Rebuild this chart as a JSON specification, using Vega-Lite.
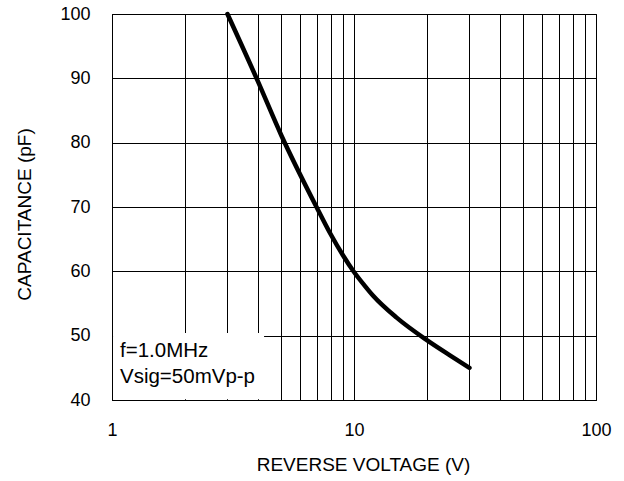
{
  "$schema": "https://vega.github.io/schema/vega-lite/v6.json",
  "autosize": {"type": "none"},
  "padding": {"left": 112, "top": 14, "right": 28, "bottom": 81},
  "width": 484,
  "height": 386,
  "background": "white",
  "config": {
    "font": "Liberation Sans",
    "view": {"stroke": "black", "strokeWidth": 1},
    "axis": {
      "domainColor": "black",
      "gridColor": "black",
      "gridOpacity": 1,
      "gridWidth": 1,
      "ticks": false,
      "labelColor": "black",
      "titleColor": "black",
      "labelFont": "Liberation Sans",
      "titleFont": "Liberation Sans",
      "labelFontSize": 18,
      "titleFontSize": 19,
      "titleFontWeight": "normal"
    }
  },
  "datasets": {
    "curve": [
      {"v": 3, "c": 100},
      {"v": 4, "c": 89.6},
      {"v": 5, "c": 81.2},
      {"v": 7, "c": 70},
      {"v": 8, "c": 65.8},
      {"v": 9, "c": 62.5},
      {"v": 10, "c": 59.9},
      {"v": 11, "c": 57.9},
      {"v": 12, "c": 56.2},
      {"v": 15, "c": 52.8},
      {"v": 20, "c": 49.3},
      {"v": 25, "c": 46.9},
      {"v": 30, "c": 45}
    ],
    "box": [{"x1": 1.01, "x2": 4.25, "y1": 40.1, "y2": 50.4}],
    "notes": [
      {"x": 1.079, "y": 46.65, "t": "f=1.0MHz"},
      {"x": 1.079, "y": 42.64, "t": "Vsig=50mVp-p"}
    ]
  },
  "layer": [
    {
      "data": {"name": "box"},
      "mark": {"type": "rect", "fill": "white", "stroke": null},
      "encoding": {
        "x": {
          "field": "x1", "type": "quantitative",
          "scale": {"type": "log", "domain": [1, 100]},
          "axis": {
            "values": [1,2,3,4,5,6,7,8,9,10,20,30,40,50,60,70,80,90,100],
            "labelExpr": "datum.value == 1 || datum.value == 10 || datum.value == 100 ? datum.label : ''",
            "labelPadding": 21,
            "title": "REVERSE VOLTAGE (V)",
            "titlePadding": 16,
            "titleX": 251,
            "labelFlush": false,
            "labelOverlap": false
          }
        },
        "x2": {"field": "x2"},
        "y": {
          "field": "y1", "type": "quantitative",
          "scale": {"domain": [40, 100]},
          "axis": {
            "values": [40,50,60,70,80,90,100],
            "labelPadding": 22,
            "title": "CAPACITANCE (pF)",
            "titlePadding": 25,
            "titleY": 200,
            "labelFlush": false
          }
        },
        "y2": {"field": "y2"}
      }
    },
    {
      "data": {"name": "curve"},
      "mark": {"type": "line", "color": "black", "strokeWidth": 4.5, "interpolate": "monotone", "strokeCap": "round"},
      "encoding": {
        "x": {"field": "v", "type": "quantitative"},
        "y": {"field": "c", "type": "quantitative"}
      }
    },
    {
      "data": {"name": "notes"},
      "mark": {"type": "text", "align": "left", "baseline": "alphabetic", "fontSize": 20.5, "font": "Liberation Sans", "color": "black"},
      "encoding": {
        "x": {"field": "x", "type": "quantitative"},
        "y": {"field": "y", "type": "quantitative"},
        "text": {"field": "t"}
      }
    }
  ]
}
